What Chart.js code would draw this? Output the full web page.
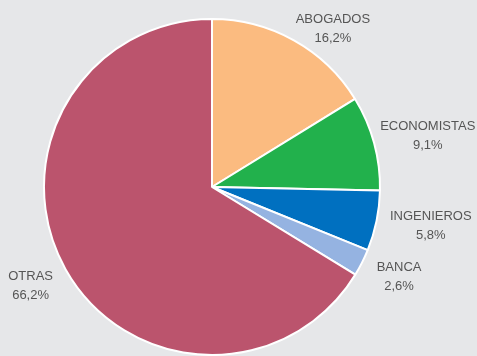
<!DOCTYPE html>
<html>
<head>
<meta charset="utf-8">
<script src="https://cdn.jsdelivr.net/npm/chart.js@4/dist/chart.umd.min.js"></script>
<style>
  html, body { margin: 0; padding: 0; background: #e6e7e9; }
  #wrap { width: 477px; height: 356px; position: relative; }
</style>
</head>
<body>
<div id="wrap"><canvas id="pie-chart"></canvas></div>
<script>
var categories = ["ABOGADOS", "ECONOMISTAS", "INGENIEROS", "BANCA", "OTRAS"];
var shares = [16.2, 9.1, 5.8, 2.6, 66.2];
var sliceColors = ["#fbbb80", "#22b14c", "#0070c0", "#95b3e1", "#bb546d"];

// label placement around the pie: angle shift (degrees) and gap beyond the rim (px)
var labelLayout = [
  { turn: 8.0, gap: 32 },
  { turn: 1.6, gap: 54 },
  { turn: -1.9, gap: 54 },
  { turn: -1.4, gap: 39 },
  { turn: 1.0, gap: 38 }
];

function pct(v) {
  return v.toFixed(1).replace('.', ',') + '%';
}

var outerLabels = {
  id: 'outerLabels',
  afterDatasetsDraw: function (chart) {
    var ctx = chart.ctx;
    var meta = chart.getDatasetMeta(0);
    ctx.save();
    ctx.font = '13px "Liberation Sans", Arial, sans-serif';
    ctx.fillStyle = '#555555';
    ctx.textAlign = 'center';
    ctx.textBaseline = 'middle';
    meta.data.forEach(function (arc, i) {
      var p = arc.getProps(['x', 'y', 'startAngle', 'endAngle', 'outerRadius'], true);
      var lay = labelLayout[i];
      var a = (p.startAngle + p.endAngle) / 2 + lay.turn * Math.PI / 180;
      var r = p.outerRadius + lay.gap;
      var cx = p.x + Math.cos(a) * r;
      var cy = p.y + Math.sin(a) * r;
      ctx.fillText(categories[i], cx, cy - 8);
      ctx.fillText(pct(shares[i]), cx, cy + 10.5);
    });
    ctx.restore();
  }
};

var pieChart = new Chart(document.getElementById('pie-chart'), {
  type: 'pie',
  data: {
    labels: categories,
    datasets: [{
      data: shares,
      backgroundColor: sliceColors,
      borderColor: '#ffffff',
      borderWidth: 2
    }]
  },
  options: {
    responsive: true,
    maintainAspectRatio: false,
    animation: false,
    layout: { padding: { top: 18, bottom: 0, left: 0, right: 53 } },
    plugins: {
      legend: { display: false },
      tooltip: { enabled: false }
    }
  },
  plugins: [outerLabels]
});
</script>
</body>
</html>
